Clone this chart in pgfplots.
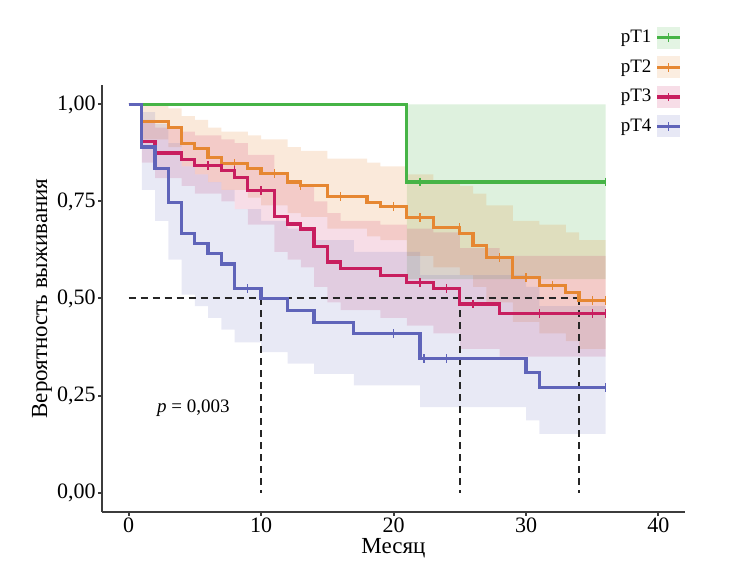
\documentclass[border=0pt]{standalone}
\usepackage{pgfplots}
\pgfplotsset{compat=1.18}
\usepackage{pgfplotstable}
\usepgfplotslibrary{fillbetween}
\usepackage{fontspec}
\setmainfont{Liberation Serif}
\definecolor{cG}{RGB}{70,180,70}
\definecolor{cO}{RGB}{230,135,50}
\definecolor{cR}{RGB}{200,30,95}
\definecolor{cB}{RGB}{95,100,185}
\definecolor{axc}{RGB}{60,60,60}
\pgfplotsset{every non boxed x axis/.style={}, every non boxed y axis/.style={}}
\pgfplotsset{kmleg/.style={legend image code/.code={
  \path[draw=none, fill=#1, fill opacity=0.15] (0pt,-5.5pt) rectangle (11.5pt,5.5pt);
  \draw[draw=#1, line width=1.6pt] (0pt,0pt) -- (11.5pt,0pt);
  \draw[draw=#1, line width=0.7pt] (5.75pt,-2.2pt) -- (5.75pt,2.2pt);}}}

\pgfplotstableread{
t s lo hi
0 1 1 1
21 0.80 0.55 1.0
36 0.80 0.55 1.0
}\tGreen
\pgfplotstableread{
t s lo hi
0 1 1 1
1 0.955 0.91 1.0
3 0.94 0.89 0.99
4 0.90 0.84 0.97
5 0.886 0.82 0.96
6 0.864 0.80 0.94
7 0.847 0.78 0.93
9 0.835 0.76 0.92
10 0.821 0.74 0.91
12 0.80 0.72 0.89
13 0.79 0.71 0.88
15 0.763 0.68 0.86
18 0.748 0.66 0.85
19 0.737 0.65 0.84
21 0.708 0.61 0.82
23 0.682 0.58 0.80
25 0.667 0.56 0.79
26 0.637 0.53 0.77
27 0.605 0.49 0.74
29 0.553 0.44 0.70
31 0.534 0.41 0.69
33 0.516 0.39 0.67
34 0.495 0.37 0.65
36 0.495 0.37 0.65
}\tOrange
\pgfplotstableread{
t s lo hi
0 1 1 1
1 0.905 0.85 0.96
2 0.875 0.81 0.94
4 0.858 0.79 0.93
5 0.843 0.77 0.92
7 0.829 0.75 0.91
8 0.812 0.73 0.90
9 0.778 0.69 0.87
11 0.712 0.62 0.82
12 0.692 0.60 0.80
13 0.679 0.58 0.79
14 0.633 0.53 0.75
15 0.594 0.49 0.72
16 0.577 0.47 0.70
19 0.559 0.45 0.69
21 0.542 0.43 0.68
23 0.526 0.41 0.67
25 0.486 0.37 0.63
28 0.462 0.35 0.61
36 0.462 0.35 0.61
}\tRed
\pgfplotstableread{
t s lo hi
0 1 1 1
1 0.89 0.78 0.98
2 0.834 0.70 0.95
3 0.748 0.60 0.90
4 0.667 0.51 0.84
5 0.641 0.48 0.82
6 0.615 0.45 0.80
7 0.589 0.42 0.78
8 0.525 0.387 0.73
10 0.499 0.362 0.70
12 0.469 0.332 0.68
14 0.439 0.306 0.65
17 0.409 0.276 0.62
22 0.345 0.22 0.56
30 0.31 0.186 0.53
31 0.27 0.151 0.48
36 0.27 0.151 0.48
}\tBlue

\begin{document}
\begin{tikzpicture}
\begin{axis}[
  scale only axis, width=291.5pt, height=213.5pt,
  xmin=-2, xmax=42, ymin=-0.05, ymax=1.05,
  axis x line*=bottom, axis y line*=left,
  axis line style={-, draw=axc, line width=1pt},
  tick style={draw=axc, line width=1pt}, tick align=outside,
  major tick length=2pt,
  xtick={0,10,20,30,40}, xticklabels={0,10,20,30,40},
  ytick={0,0.25,0.5,0.75,1},
  yticklabels={{0,00},{0,25},{0,50},{0,75},{1,00}},
  ticklabel style={font=\fontsize{11}{13}\selectfont, text=black, inner sep=1pt},
  xlabel={Месяц}, ylabel={Вероятность выживания},
  label style={font=\fontsize{11.5}{13}\selectfont},
  xlabel style={yshift=2pt},
  ylabel style={yshift=-2pt},
  clip=false,
  legend style={at={(0.995,1.139)}, anchor=north east, draw=none, fill=none,
    font=\fontsize{9.5}{11}\selectfont, row sep=3pt, inner sep=0pt},
  legend plot pos=right, legend cell align=right,
]
\path (rel axis cs:-0.175,-0.1405) rectangle (rel axis cs:1.0875,1.199);

% confidence bands
\addplot[const plot, draw=none, name path=gU, forget plot] table[x=t,y=hi]{\tGreen};
\addplot[const plot, draw=none, name path=gL, forget plot] table[x=t,y=lo]{\tGreen};
\addplot[cG, fill opacity=0.18, draw=none, forget plot] fill between[of=gU and gL];
\addplot[const plot, draw=none, name path=oU, forget plot] table[x=t,y=hi]{\tOrange};
\addplot[const plot, draw=none, name path=oL, forget plot] table[x=t,y=lo]{\tOrange};
\addplot[cO, fill opacity=0.18, draw=none, forget plot] fill between[of=oU and oL];
\addplot[const plot, draw=none, name path=rU, forget plot] table[x=t,y=hi]{\tRed};
\addplot[const plot, draw=none, name path=rL, forget plot] table[x=t,y=lo]{\tRed};
\addplot[cR, fill opacity=0.15, draw=none, forget plot] fill between[of=rU and rL];
\addplot[const plot, draw=none, name path=bU, forget plot] table[x=t,y=hi]{\tBlue};
\addplot[const plot, draw=none, name path=bL, forget plot] table[x=t,y=lo]{\tBlue};
\addplot[cB, fill opacity=0.14, draw=none, forget plot] fill between[of=bU and bL];

% median dashed lines
\addplot[black!85, line width=1pt, dash pattern=on 3.5pt off 2.5pt, forget plot] coordinates {(0,0.5) (34,0.5)};
\addplot[black!85, line width=1pt, dash pattern=on 3.5pt off 2.5pt, forget plot] coordinates {(10,0.5) (10,0)};
\addplot[black!85, line width=1pt, dash pattern=on 3.5pt off 2.5pt, forget plot] coordinates {(25,0.5) (25,0)};
\addplot[black!85, line width=1pt, dash pattern=on 3.5pt off 2.5pt, forget plot] coordinates {(34,0.5) (34,0)};

% survival curves
\addplot[const plot, cG, line width=1.6pt, forget plot] table[x=t,y=s]{\tGreen};
\addplot[const plot, cO, line width=1.6pt, forget plot] table[x=t,y=s]{\tOrange};
\addplot[const plot, cR, line width=1.6pt, forget plot] table[x=t,y=s]{\tRed};
\addplot[const plot, cB, line width=1.6pt, forget plot] table[x=t,y=s]{\tBlue};

% censoring marks
\addplot[only marks, mark=|, mark size=2.2pt, cG, line width=0.7pt, forget plot] coordinates {(22,0.80) (36,0.80)};
\addplot[only marks, mark=|, mark size=2.2pt, cO, line width=0.7pt, forget plot] coordinates {(8,0.847) (11,0.821) (13,0.79) (16,0.763) (20,0.737) (22,0.708) (25,0.682) (28,0.605) (30,0.553) (32,0.534) (35,0.495) (36,0.495)};
\addplot[only marks, mark=|, mark size=2.2pt, cR, line width=0.7pt, forget plot] coordinates {(6,0.843) (8,0.829) (10,0.778) (22,0.542) (24,0.526) (26,0.486) (31,0.462) (35,0.462) (36,0.462)};
\addplot[only marks, mark=|, mark size=2.2pt, cB, line width=0.7pt, forget plot] coordinates {(9,0.525) (20,0.409) (22.3,0.345) (24,0.345) (36,0.27)};

\node[font=\fontsize{9.5}{11}\selectfont] at (axis cs:4.9,0.217) {\textit{p} = 0,003};

\addlegendimage{kmleg=cG}\addlegendentry{pT1}
\addlegendimage{kmleg=cO}\addlegendentry{pT2}
\addlegendimage{kmleg=cR}\addlegendentry{pT3}
\addlegendimage{kmleg=cB}\addlegendentry{pT4}
\end{axis}
\end{tikzpicture}
\end{document}
